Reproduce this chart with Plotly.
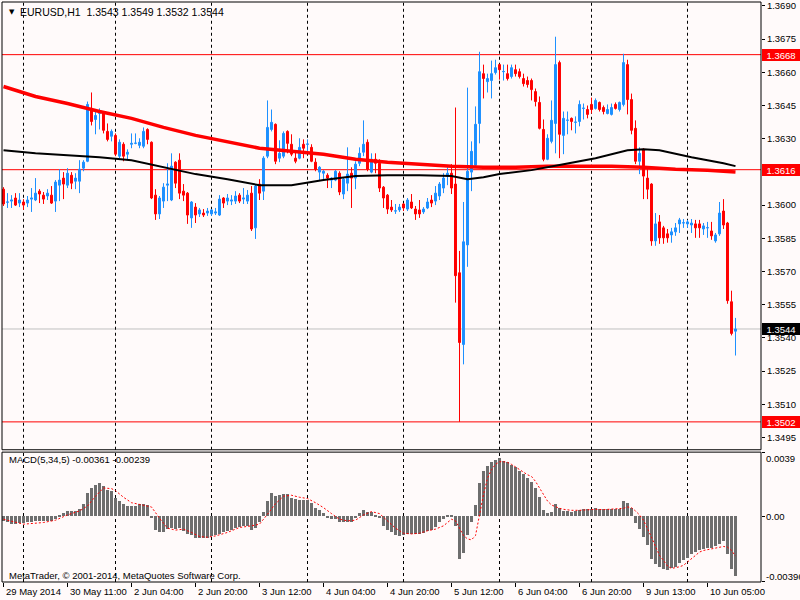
import plotly.graph_objects as go

# ── EURUSD H1 candles (bar 0 = 29 May 2014 19:00, last bar = 10 Jun 12:00) ──
OPEN = [
    1.36072, 1.36013, 1.36018, 1.36032, 1.36009, 1.36014, 1.36009, 1.36027, 1.36023, 1.36063,
    1.36045, 1.36041, 1.36045, 1.36018, 1.36090, 1.36122, 1.36090, 1.36135, 1.36108, 1.36108,
    1.36167, 1.36198, 1.36437, 1.36387, 1.36414, 1.36414, 1.36333, 1.36311, 1.36315, 1.36221,
    1.36275, 1.36230, 1.36275, 1.36279, 1.36270, 1.36266, 1.36342, 1.36284, 1.36045, 1.35960,
    1.36018, 1.36090, 1.36023, 1.36194, 1.36203, 1.36063, 1.36054, 1.35942, 1.35991, 1.35960,
    1.35964, 1.35964, 1.35960, 1.35964, 1.35955, 1.36032, 1.36018, 1.36018, 1.36018, 1.36045,
    1.36027, 1.36018, 1.36054, 1.35897, 1.36095, 1.36063, 1.36221, 1.36342, 1.36365, 1.36212,
    1.36221, 1.36333, 1.36275, 1.36212, 1.36212, 1.36275, 1.36275, 1.36261, 1.36194, 1.36149,
    1.36144, 1.36135, 1.36113, 1.36113, 1.36144, 1.36050, 1.36099, 1.36144, 1.36122, 1.36189,
    1.36239, 1.36284, 1.36149, 1.36207, 1.36189, 1.36081, 1.36045, 1.35991, 1.35973, 1.35978,
    1.36005, 1.35982, 1.36014, 1.35982, 1.35978, 1.35969, 1.35987, 1.36023, 1.36018, 1.36041,
    1.36077, 1.36131, 1.36144, 1.36095, 1.35694, 1.35370, 1.35820, 1.36149, 1.36180, 1.36369,
    1.36594, 1.36558, 1.36563, 1.36599, 1.36635, 1.36603, 1.36594, 1.36581, 1.36612, 1.36603,
    1.36572, 1.36563, 1.36563, 1.36513, 1.36464, 1.36342, 1.36207, 1.36288, 1.36369, 1.36644,
    1.36315, 1.36383, 1.36392, 1.36374, 1.36378, 1.36437, 1.36432, 1.36455, 1.36437, 1.36464,
    1.36441, 1.36414, 1.36410, 1.36455, 1.36432, 1.36455, 1.36635, 1.36477, 1.36347, 1.36198,
    1.36252, 1.36122, 1.36095, 1.35838, 1.35924, 1.35897, 1.35870, 1.35865, 1.35879, 1.35915,
    1.35919, 1.35915, 1.35910, 1.35915, 1.35915, 1.35892, 1.35897, 1.35883, 1.35838, 1.35870,
    1.35973, 1.35919, 1.35563, 1.35430,
]
HIGH = [
    1.36081, 1.36054, 1.36045, 1.36054, 1.36054, 1.36027, 1.36041, 1.36077, 1.36122, 1.36072,
    1.36059, 1.36072, 1.36086, 1.36113, 1.36162, 1.36149, 1.36167, 1.36149, 1.36144, 1.36203,
    1.36203, 1.36468, 1.36509, 1.36428, 1.36437, 1.36423, 1.36369, 1.36342, 1.36324, 1.36297,
    1.36284, 1.36252, 1.36324, 1.36324, 1.36302, 1.36351, 1.36347, 1.36288, 1.36072, 1.36041,
    1.36099, 1.36189, 1.36234, 1.36198, 1.36234, 1.36095, 1.36059, 1.36018, 1.36009, 1.35987,
    1.35982, 1.35987, 1.35982, 1.35987, 1.36045, 1.36036, 1.36050, 1.36045, 1.36063, 1.36054,
    1.36077, 1.36068, 1.36086, 1.36095, 1.36117, 1.36221, 1.36473, 1.36432, 1.36369, 1.36293,
    1.36333, 1.36338, 1.36320, 1.36248, 1.36302, 1.36297, 1.36297, 1.36275, 1.36212, 1.36176,
    1.36158, 1.36144, 1.36126, 1.36158, 1.36153, 1.36126, 1.36261, 1.36171, 1.36198, 1.36261,
    1.36383, 1.36297, 1.36234, 1.36234, 1.36207, 1.36086, 1.36050, 1.36023, 1.36005, 1.36005,
    1.36009, 1.36032, 1.36050, 1.35996, 1.36023, 1.35991, 1.36032, 1.36045, 1.36086, 1.36104,
    1.36144, 1.36171, 1.36185, 1.36441, 1.35793, 1.36014, 1.36531, 1.36288, 1.36446, 1.36693,
    1.36635, 1.36594, 1.36653, 1.36657, 1.36639, 1.36635, 1.36635, 1.36635, 1.36635, 1.36617,
    1.36594, 1.36581, 1.36572, 1.36527, 1.36491, 1.36387, 1.36320, 1.36473, 1.36761, 1.36653,
    1.36423, 1.36423, 1.36396, 1.36401, 1.36473, 1.36459, 1.36450, 1.36486, 1.36482, 1.36468,
    1.36450, 1.36455, 1.36459, 1.36464, 1.36468, 1.36684, 1.36657, 1.36504, 1.36383, 1.36261,
    1.36257, 1.36162, 1.36099, 1.35964, 1.35955, 1.35906, 1.35892, 1.35897, 1.35919, 1.35942,
    1.35937, 1.35933, 1.35937, 1.35933, 1.35933, 1.35919, 1.35924, 1.35924, 1.35874, 1.36014,
    1.36027, 1.35924, 1.35613, 1.35490,
]
LOW = [
    1.35996, 1.35987, 1.35987, 1.35996, 1.35991, 1.35978, 1.35991, 1.35969, 1.36018, 1.36009,
    1.36005, 1.36023, 1.36005, 1.35969, 1.36018, 1.36027, 1.36077, 1.36072, 1.36072, 1.36054,
    1.36153, 1.36194, 1.36360, 1.36320, 1.36342, 1.36324, 1.36288, 1.36288, 1.36221, 1.36212,
    1.36198, 1.36203, 1.36257, 1.36275, 1.36257, 1.36257, 1.36275, 1.36027, 1.35933, 1.35937,
    1.35987, 1.36018, 1.36018, 1.36077, 1.36027, 1.36018, 1.35915, 1.35897, 1.35919, 1.35946,
    1.35946, 1.35951, 1.35951, 1.35955, 1.35951, 1.35987, 1.36000, 1.36000, 1.36005, 1.36009,
    1.36005, 1.36005, 1.35883, 1.35847, 1.36023, 1.36023, 1.36212, 1.36333, 1.36185, 1.36194,
    1.36212, 1.36234, 1.36221, 1.36189, 1.36207, 1.36212, 1.36234, 1.36194, 1.36153, 1.36113,
    1.36117, 1.36077, 1.36077, 1.36108, 1.36045, 1.36027, 1.36063, 1.35987, 1.36072, 1.36176,
    1.36221, 1.36153, 1.36144, 1.36144, 1.36059, 1.35987, 1.35960, 1.35969, 1.35960, 1.35969,
    1.35973, 1.35973, 1.35982, 1.35933, 1.35942, 1.35960, 1.35982, 1.35991, 1.36000, 1.36023,
    1.36054, 1.36090, 1.36050, 1.35559, 1.35020, 1.35280, 1.35721, 1.36063, 1.36171, 1.36279,
    1.36482, 1.36509, 1.36482, 1.36590, 1.36567, 1.36563, 1.36563, 1.36572, 1.36581, 1.36572,
    1.36536, 1.36531, 1.36473, 1.36446, 1.36342, 1.36198, 1.36203, 1.36279, 1.36234, 1.36212,
    1.36230, 1.36320, 1.36338, 1.36324, 1.36356, 1.36387, 1.36392, 1.36414, 1.36432, 1.36423,
    1.36410, 1.36410, 1.36405, 1.36432, 1.36423, 1.36446, 1.36410, 1.36320, 1.36185, 1.36140,
    1.36027, 1.36027, 1.35816, 1.35816, 1.35825, 1.35825, 1.35830, 1.35830, 1.35861, 1.35874,
    1.35897, 1.35897, 1.35874, 1.35852, 1.35852, 1.35865, 1.35852, 1.35843, 1.35830, 1.35861,
    1.35892, 1.35554, 1.35411, 1.35320,
]
CLOSE = [
    1.36005, 1.36014, 1.36023, 1.36000, 1.36023, 1.36000, 1.36023, 1.36032, 1.36054, 1.36050,
    1.36027, 1.36054, 1.36009, 1.36104, 1.36113, 1.36095, 1.36144, 1.36099, 1.36122, 1.36162,
    1.36194, 1.36455, 1.36378, 1.36405, 1.36428, 1.36338, 1.36297, 1.36333, 1.36230, 1.36284,
    1.36221, 1.36239, 1.36279, 1.36280, 1.36284, 1.36333, 1.36297, 1.36032, 1.35960, 1.36032,
    1.36081, 1.36095, 1.36176, 1.36099, 1.36054, 1.36045, 1.35955, 1.36014, 1.35955, 1.35978,
    1.35955, 1.35973, 1.35978, 1.35969, 1.36027, 1.36009, 1.36032, 1.36023, 1.36041, 1.36018,
    1.36032, 1.36045, 1.35892, 1.36086, 1.36054, 1.36212, 1.36351, 1.36374, 1.36198, 1.36234,
    1.36324, 1.36279, 1.36230, 1.36198, 1.36261, 1.36257, 1.36276, 1.36198, 1.36162, 1.36171,
    1.36153, 1.36122, 1.36122, 1.36153, 1.36059, 1.36117, 1.36140, 1.36122, 1.36185, 1.36234,
    1.36275, 1.36162, 1.36207, 1.36189, 1.36077, 1.36032, 1.35982, 1.35978, 1.35974, 1.35991,
    1.35987, 1.36023, 1.35987, 1.35960, 1.35960, 1.35982, 1.36014, 1.36009, 1.36054, 1.36095,
    1.36122, 1.36144, 1.36077, 1.35681, 1.35379, 1.35834, 1.36153, 1.36243, 1.36365, 1.36603,
    1.36572, 1.36572, 1.36594, 1.36621, 1.36612, 1.36604, 1.36572, 1.36621, 1.36594, 1.36581,
    1.36549, 1.36545, 1.36522, 1.36468, 1.36347, 1.36207, 1.36302, 1.36383, 1.36635, 1.36320,
    1.36392, 1.36384, 1.36378, 1.36375, 1.36455, 1.36438, 1.36410, 1.36432, 1.36473, 1.36432,
    1.36423, 1.36432, 1.36441, 1.36437, 1.36464, 1.36644, 1.36477, 1.36338, 1.36198, 1.36234,
    1.36131, 1.36072, 1.35838, 1.35915, 1.35852, 1.35852, 1.35852, 1.35879, 1.35897, 1.35933,
    1.35920, 1.35924, 1.35919, 1.35897, 1.35897, 1.35906, 1.35898, 1.35861, 1.35865, 1.35964,
    1.35910, 1.35568, 1.35420, 1.35440,
]

# moving averages, read at some bars
RED_MA_BAR = [0, 8, 16, 24, 32, 40, 48, 56, 64, 72, 80, 88, 96, 104, 112, 120,
              128, 136, 144, 152, 160, 168, 176, 183]
RED_MA = [1.36536, 1.36491, 1.36459, 1.36423, 1.36392, 1.36351, 1.36315, 1.36284,
          1.36257, 1.36243, 1.36230, 1.36207, 1.36194, 1.36185, 1.36176, 1.36171,
          1.36171, 1.36176, 1.36176, 1.36176, 1.36171, 1.36162, 1.36158, 1.36149]
BLACK_MA_BAR = [0, 8, 16, 24, 32, 40, 48, 56, 64, 72, 80, 88, 96, 104, 112, 116,
                120, 124, 132, 140, 148, 156, 160, 164, 172, 180, 183]
BLACK_MA = [1.36248, 1.36234, 1.36225, 1.36216, 1.36203, 1.36171, 1.36140, 1.36117,
            1.36090, 1.36090, 1.36113, 1.36131, 1.36135, 1.36135, 1.36131, 1.36117,
            1.36126, 1.36140, 1.36158, 1.36185, 1.36212, 1.36248, 1.36252, 1.36248,
            1.36216, 1.36189, 1.36176]

# MACD(5,34,5) main line (histogram) and signal line
MACD_HIST = [
    -0.00026, -0.00036, -0.00046, -0.00046, -0.00042, -0.00040, -0.00036, -0.00036, -0.00030, -0.00026,
    -0.00026, -0.00026, -0.00026, -0.00016, 0.00010, 0.00018, 0.00034, 0.00034, 0.00034, 0.00044,
    0.00074, 0.00143, 0.00173, 0.00193, 0.00203, 0.00187, 0.00163, 0.00153, 0.00109, 0.00094,
    0.00078, 0.00064, 0.00064, 0.00064, 0.00074, 0.00074, 0.00068, -0.00006, -0.00082, -0.00096,
    -0.00092, -0.00076, -0.00070, -0.00076, -0.00070, -0.00086, -0.00105, -0.00115, -0.00129, -0.00133,
    -0.00129, -0.00129, -0.00121, -0.00115, -0.00105, -0.00096, -0.00086, -0.00082, -0.00070, -0.00066,
    -0.00060, -0.00056, -0.00082, -0.00070, -0.00036, 0.00024, 0.00094, 0.00143, 0.00123, 0.00129,
    0.00137, 0.00137, 0.00113, 0.00103, 0.00098, 0.00098, 0.00098, 0.00084, 0.00054, 0.00038,
    0.00018, -0.00006, -0.00016, -0.00016, -0.00036, -0.00032, -0.00032, -0.00032, -0.00012, 0.00018,
    0.00038, 0.00028, 0.00028, 0.00010, -0.00010, -0.00056, -0.00082, -0.00096, -0.00115, -0.00118,
    -0.00115, -0.00105, -0.00105, -0.00105, -0.00105, -0.00101, -0.00090, -0.00082, -0.00062, -0.00036,
    -0.00016, 0.00010, 0.00010, -0.00056, -0.00255, -0.00221, -0.00115, -0.00036, 0.00070, 0.00203,
    0.00273, 0.00308, 0.00332, 0.00342, 0.00352, 0.00336, 0.00328, 0.00312, 0.00297, 0.00277,
    0.00257, 0.00233, 0.00209, 0.00173, 0.00117, 0.00038, 0.00018, 0.00024, 0.00074, 0.00054,
    0.00034, 0.00030, 0.00028, 0.00030, 0.00038, 0.00044, 0.00044, 0.00044, 0.00054, 0.00048,
    0.00044, 0.00044, 0.00044, 0.00044, 0.00048, 0.00094, 0.00084, 0.00054, -0.00042, -0.00076,
    -0.00125, -0.00175, -0.00255, -0.00289, -0.00308, -0.00320, -0.00324, -0.00314, -0.00304, -0.00281,
    -0.00261, -0.00249, -0.00225, -0.00215, -0.00201, -0.00195, -0.00189, -0.00189, -0.00181, -0.00165,
    -0.00149, -0.00229, -0.00320, -0.00361,
]
SIGNAL_BAR = [
    0, 5, 10, 13, 16, 19, 21, 23, 25, 27, 28, 30, 32, 35, 37, 39, 41, 43, 45, 47,
    49, 51, 53, 56, 59, 62, 64, 66, 68, 70, 72, 74, 76, 78, 80, 82, 84, 86, 88, 90,
    92, 94, 96, 98, 100, 102, 104, 106, 108, 110, 112, 113, 114, 115, 116, 117, 118, 119, 120, 121,
    122, 123, 124, 125, 126, 127, 128, 129, 130, 131, 132, 133, 134, 135, 136, 137, 138, 139, 140, 142,
    144, 146, 148, 150, 152, 154, 155, 156, 157, 158, 159, 160, 161, 162, 163, 164, 165, 166, 167, 168,
    169, 170, 171, 172, 173, 174, 175, 176, 177, 178, 179, 180, 181, 182, 183,
]
SIGNAL = [
    -0.00016, -0.00046, -0.00036, -0.00022, 0.00010, 0.00034, 0.00064, 0.00123, 0.00173, 0.00169,
    0.00157, 0.00117, 0.00084, 0.00070, 0.00058, -0.00010, -0.00070, -0.00082, -0.00076, -0.00096,
    -0.00121, -0.00125, -0.00117, -0.00096, -0.00066, -0.00056, -0.00046, 0.00014, 0.00078, 0.00123,
    0.00129, 0.00117, 0.00109, 0.00084, 0.00054, 0.00018, -0.00016, -0.00026, -0.00022, 0.00010,
    0.00030, 0.00018, -0.00026, -0.00070, -0.00101, -0.00105, -0.00101, -0.00086, -0.00076, -0.00056,
    -0.00016, -0.00026, -0.00070, -0.00115, -0.00135, -0.00141, -0.00115, 0.00014, 0.00133, 0.00233,
    0.00283, 0.00316, 0.00332, 0.00332, 0.00328, 0.00316, 0.00302, 0.00283, 0.00269, 0.00253,
    0.00243, 0.00213, 0.00173, 0.00129, 0.00094, 0.00070, 0.00058, 0.00050, 0.00044, 0.00038,
    0.00038, 0.00042, 0.00044, 0.00042, 0.00044, 0.00046, 0.00050, 0.00058, 0.00054, 0.00034,
    0.00010, -0.00022, -0.00070, -0.00125, -0.00181, -0.00235, -0.00265, -0.00300, -0.00314, -0.00310,
    -0.00304, -0.00295, -0.00275, -0.00255, -0.00235, -0.00215, -0.00205, -0.00201, -0.00195, -0.00189,
    -0.00185, -0.00181, -0.00185, -0.00205, -0.00239,
]

LEVELS = [1.3668, 1.3616, 1.3502]          # red horizontal lines
BID = 1.3544
PRICE_TICKS = [1.3690, 1.3675, 1.3660, 1.3645, 1.3630, 1.3615, 1.3600,
               1.3585, 1.3570, 1.3555, 1.3540, 1.3525, 1.3510, 1.3495]
MACD_MAX, MACD_MIN = 0.0039, -0.00396
DAY_SEP_BAR = [5, 28, 52, 76, 100, 124, 147, 171]
TIME_BAR = [0, 16, 32, 48, 64, 80, 96, 112, 128, 144, 160, 176]
TIME_LABELS = ["29 May 2014", "30 May 11:00", "2 Jun 04:00", "2 Jun 20:00",
               "3 Jun 12:00", "4 Jun 04:00", "4 Jun 20:00", "5 Jun 12:00",
               "6 Jun 04:00", "6 Jun 20:00", "9 Jun 13:00", "10 Jun 05:00"]

FONT = "Liberation Sans, Arial, sans-serif"
BG = "#fffafa"
BLUE = "#1e90ff"
bars = list(range(len(OPEN)))

fig = go.Figure()

fig.add_trace(go.Candlestick(
    x=bars, open=OPEN, high=HIGH, low=LOW, close=CLOSE,
    increasing=dict(line=dict(color=BLUE, width=1), fillcolor=BLUE),
    decreasing=dict(line=dict(color="red", width=1), fillcolor="red"),
    whiskerwidth=0, xaxis="x", yaxis="y", showlegend=False, hoverinfo="skip",
))
fig.add_trace(go.Scatter(x=RED_MA_BAR, y=RED_MA, mode="lines",
                         line=dict(color="red", width=3.5),
                         xaxis="x", yaxis="y", showlegend=False, hoverinfo="skip"))
fig.add_trace(go.Scatter(x=BLACK_MA_BAR, y=BLACK_MA, mode="lines",
                         line=dict(color="black", width=2),
                         xaxis="x", yaxis="y", showlegend=False, hoverinfo="skip"))

fig.add_trace(go.Bar(x=bars, y=MACD_HIST, width=0.72, marker=dict(color="#6e6e6e", line_width=0),
                     xaxis="x2", yaxis="y2", showlegend=False, hoverinfo="skip"))
fig.add_trace(go.Scatter(x=SIGNAL_BAR, y=SIGNAL, mode="lines",
                         line=dict(color="red", width=1, dash="2px,2px"),
                         xaxis="x2", yaxis="y2", showlegend=False, hoverinfo="skip"))

# ── shapes: levels, bid line, day separators, frames ─────────────
shapes = []
for p in LEVELS:
    shapes.append(dict(type="line", xref="x domain", x0=0, x1=1, yref="y", y0=p, y1=p,
                       line=dict(color="red", width=1), layer="below"))
shapes.append(dict(type="line", xref="x domain", x0=0, x1=1, yref="y", y0=BID, y1=BID,
                   line=dict(color="#c0c0c0", width=1), layer="below"))
for d in DAY_SEP_BAR:
    for yr in ("y domain", "y2 domain"):
        shapes.append(dict(type="line", xref="x", x0=d, x1=d, yref=yr, y0=0, y1=1,
                           line=dict(color="black", width=1, dash="3px,3px"), layer="below"))
for yr in ("y domain", "y2 domain"):
    shapes.append(dict(type="rect", xref="x domain", x0=0, x1=1, yref=yr, y0=0, y1=1,
                       line=dict(color="black", width=1)))

# ── annotations ──────────────────────────────────────────────────
ann = []
ann.append(dict(text="▼", x=0.0065, y=0.983, xref="paper", yref="paper", xanchor="left",
                yanchor="middle", showarrow=False, font=dict(size=7, color="black", family="DejaVu Sans")))
ann.append(dict(text="EURUSD,H1  %.4f %.4f %.4f %.4f" % (OPEN[-1], HIGH[-1], LOW[-1], CLOSE[-1]),
                x=0.021, y=0.983, xref="paper", yref="paper", xanchor="left", yanchor="middle",
                showarrow=False, font=dict(size=10.5, color="black", family=FONT)))
ann.append(dict(text="MACD(5,34,5) %.5f %.5f" % (MACD_HIST[-1], SIGNAL[-1]),
                x=0.0066, y=0.2113, xref="paper", yref="paper", xanchor="left", yanchor="middle",
                showarrow=False, font=dict(size=9.5, color="black", family=FONT)))
ann.append(dict(text="MetaTrader, © 2001-2014, MetaQuotes Software Corp.",
                x=0.0066, y=0.012, xref="paper", yref="paper", xanchor="left", yanchor="middle",
                showarrow=False, font=dict(size=9.5, color="black", family=FONT)))
for b, t in zip(TIME_BAR, TIME_LABELS):
    ann.append(dict(text=t, x=b, xref="x2", y=0, yref="paper", xanchor="left", yanchor="top",
                    yshift=-2, showarrow=False, font=dict(size=9.5, color="black", family=FONT)))
for p, col in [(LEVELS[0], "red"), (LEVELS[1], "red"), (BID, "black"), (LEVELS[2], "red")]:
    ann.append(dict(text="%.4f" % p, x=1, xref="paper", y=p, yref="y", xanchor="left",
                    yanchor="middle", xshift=1, showarrow=False, bgcolor=col, borderpad=1,
                    borderwidth=0, width=36, height=10, align="center",
                    font=dict(size=9.5, color="white", family=FONT)))
for v, txt, sh in [(MACD_MAX, "0.0039", -6), (0, "0.00", 0), (MACD_MIN, "%.5f" % MACD_MIN, 5)]:
    ann.append(dict(text=txt, x=1, xref="paper", y=v, yref="y2", xanchor="left",
                    yanchor="middle", xshift=3, yshift=sh, showarrow=False,
                    font=dict(size=9.5, color="black", family=FONT)))

fig.update_layout(
    width=800, height=600,
    margin=dict(l=2, r=39, t=0, b=18),
    paper_bgcolor=BG, plot_bgcolor=BG,
    font=dict(family=FONT, size=9.5, color="black"),
    showlegend=False,
    bargap=0,
    shapes=shapes,
    annotations=ann,
    xaxis=dict(domain=[0, 1], range=[-0.375, 189.375], anchor="y",
               showticklabels=False, showgrid=False, zeroline=False,
               rangeslider=dict(visible=False), fixedrange=True),
    xaxis2=dict(domain=[0, 1], range=[-0.375, 189.375], anchor="y2", matches="x",
                tickvals=TIME_BAR, ticks="outside", ticklen=4, tickcolor="black",
                showticklabels=False, showgrid=False, zeroline=False),
    yaxis=dict(domain=[0.228, 1], range=[1.34894, 1.36918], side="right",
               tickvals=PRICE_TICKS, tickformat=".4f", ticks="outside", ticklen=3,
               tickcolor="black", showgrid=False, zeroline=False,
               ticklabeloverflow="allow",
               tickfont=dict(size=9.5, family=FONT, color="black")),
    yaxis2=dict(domain=[0, 0.2239], range=[MACD_MIN, MACD_MAX], side="right",
                tickvals=[MACD_MIN, 0, MACD_MAX], ticks="outside", ticklen=3,
                tickcolor="black", showticklabels=False, showgrid=False, zeroline=False),
)

# the page body has a default 8px margin; drop it so the chart fills the window
fig.write_html("out.html", config={"displayModeBar": False},
               post_script="document.body.style.margin='0';")
